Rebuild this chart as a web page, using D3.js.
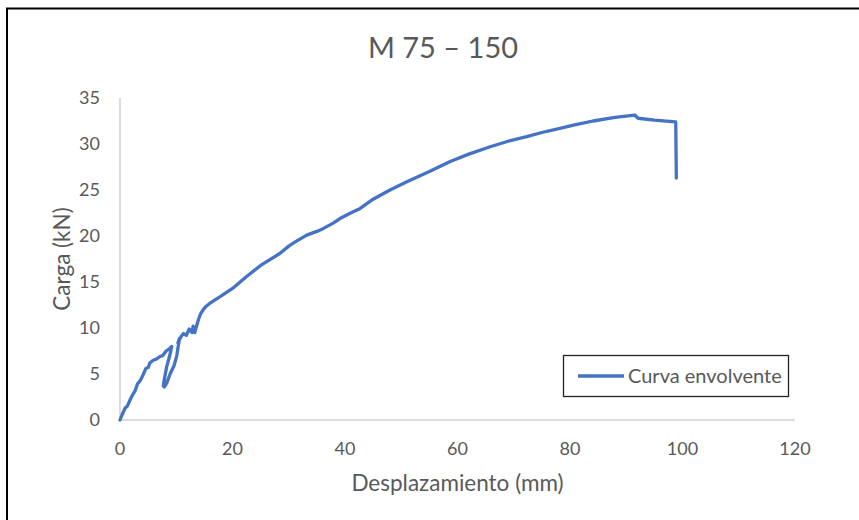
<!DOCTYPE html>
<html>
<head>
<meta charset="utf-8">
<script src="https://cdn.jsdelivr.net/npm/d3@7"></script>
<style>
  html, body { margin: 0; padding: 0; background: #fff; }
  svg { display: block; font-family: Lato, "Open Sans", sans-serif; }
</style>
</head>
<body>
<svg id="chart" width="859" height="520"></svg>
<script>
const title = "M 75 – 150";
const xLabel = "Desplazamiento (mm)";
const yLabel = "Carga (kN)";
const seriesName = "Curva envolvente";
const xTicks = [0, 20, 40, 60, 80, 100, 120];
const yTicks = [0, 5, 10, 15, 20, 25, 30, 35];

// Displacement (mm)
const displacement = [
  0, 0.4, 0.9, 1.3, 1.8, 2.2, 2.7, 3.1, 3.6, 4.1, 4.6, 5.0, 5.3, 5.9, 6.4, 7.1, 7.6, 8.2, 8.9, 9.2,
  8.8, 8.3, 7.9, 7.7, 7.9, 8.3, 8.9, 9.6, 10.1, 10.4,
  10.6, 10.3, 10.9, 11.3, 11.8, 12.3, 12.8, 13.0, 13.3,
  13.6, 14.0, 14.3, 14.8, 15.2, 16.0, 17.8, 20.0, 22.5, 25.0, 28.4, 30.0, 31.0, 33.2, 35.0, 36.1, 37.9,
  39.1, 41.0, 42.7, 45.0, 48.0, 51.0, 55.0, 58.7, 62.0, 65.8, 69.0, 72.3, 75.0, 78.2, 81.0, 84.1, 88.0,
  91.5, 92.1, 95.0, 98.8, 98.9
];
// Load (kN)
const load = [
  0, 0.6, 1.3, 1.5, 2.2, 2.7, 3.2, 3.9, 4.3, 4.9, 5.6, 5.7, 6.2, 6.5, 6.6, 6.9, 7.0, 7.5, 7.8, 8.0,
  6.9, 5.8, 4.5, 3.7, 3.6, 4.0, 5.0, 5.9, 7.0, 8.2,
  8.9, 8.4, 9.1, 9.4, 9.2, 9.9, 9.5, 10.2, 9.5,
  10.2, 11.0, 11.5, 12.0, 12.3, 12.7, 13.4, 14.3, 15.6, 16.8, 18.1, 18.9, 19.3, 20.1, 20.5, 20.8, 21.4,
  21.9, 22.5, 23.0, 24.0, 25.0, 25.9, 27.0, 28.1, 28.9, 29.7, 30.3, 30.8, 31.25, 31.7, 32.1, 32.5, 32.9,
  33.15, 32.8, 32.6, 32.4, 26.3
];

const data = displacement.map((d, i) => ({ x: d, y: load[i] }));

const svg = d3.select("#chart");
const textColor = "#595959";
const lineColor = "#4472C4";

// outer chart border
svg.append("rect")
  .attr("x", 7).attr("y", 8.5).attr("width", 900).attr("height", 600)
  .attr("fill", "none").attr("stroke", "#000").attr("stroke-width", 2);

const x = d3.scaleLinear().domain([0, 120]).range([120, 795]);
const y = d3.scaleLinear().domain([0, 35]).range([420, 98]);

// axis lines
svg.append("line")
  .attr("x1", x(0)).attr("x2", x(0)).attr("y1", y(35)).attr("y2", y(0))
  .attr("stroke", "#d0d0d0").attr("stroke-width", 1.5);
svg.append("line")
  .attr("x1", x(0)).attr("x2", x(120)).attr("y1", y(0)).attr("y2", y(0))
  .attr("stroke", "#d0d0d0").attr("stroke-width", 1.5);

// tick labels
svg.append("g").selectAll("text").data(yTicks).join("text")
  .attr("x", 100).attr("y", d => y(d)).attr("dy", "0.36em")
  .attr("text-anchor", "end").attr("fill", textColor).attr("font-size", 18)
  .text(d => d);

svg.append("g").selectAll("text").data(xTicks).join("text")
  .attr("x", d => x(d)).attr("y", 455)
  .attr("text-anchor", "middle").attr("fill", textColor).attr("font-size", 18)
  .text(d => d);

// axis titles
svg.append("text")
  .attr("x", x(60)).attr("y", 491)
  .attr("text-anchor", "middle").attr("fill", textColor).attr("font-size", 22.5)
  .text(xLabel);

svg.append("text")
  .attr("transform", `translate(70, ${y(17.5)}) rotate(-90)`)
  .attr("text-anchor", "middle").attr("fill", textColor).attr("font-size", 22.5)
  .text(yLabel);

// title
svg.append("text")
  .attr("x", 443).attr("y", 58)
  .attr("text-anchor", "middle").attr("fill", textColor).attr("font-size", 29)
  .text(title);

// series
const line = d3.line().x(d => x(d.x)).y(d => y(d.y));
svg.append("path")
  .datum(data)
  .attr("d", line)
  .attr("fill", "none").attr("stroke", lineColor).attr("stroke-width", 3.3)
  .attr("stroke-linejoin", "round").attr("stroke-linecap", "round");

// legend
const lg = svg.append("g");
lg.append("rect")
  .attr("x", 563.5).attr("y", 355.5).attr("width", 225).attr("height", 41)
  .attr("fill", "#fff").attr("stroke", "#222").attr("stroke-width", 1.3);
lg.append("line")
  .attr("x1", 578).attr("x2", 624).attr("y1", 376).attr("y2", 376)
  .attr("stroke", lineColor).attr("stroke-width", 3.3);
lg.append("text")
  .attr("x", 628).attr("y", 376).attr("dy", "0.36em")
  .attr("fill", textColor).attr("font-size", 20)
  .text(seriesName);
</script>
</body>
</html>
